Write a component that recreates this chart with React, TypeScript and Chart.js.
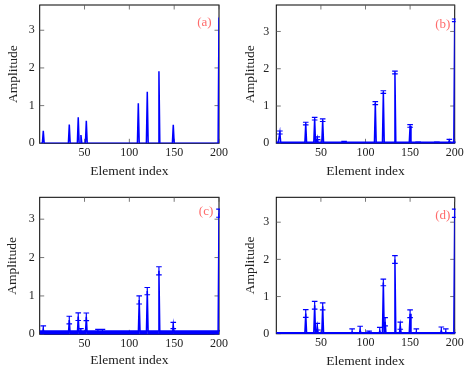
import React, { useEffect, useRef } from "react";
import { Chart, registerables } from "chart.js";
Chart.register(...registerables);

// ---------- data ----------
const nElements = 200;
const xTicks = [50, 100, 150, 200];
const yTicks = [0, 1, 2, 3];
const xLabel = "Element index";
const yLabel = "Amplitude";
const panelTags = ["(a)", "(b)", "(c)", "(d)"];
const yMaxes = [3.67, 3.71, 3.57, 3.67];

// (a) true sparse signal (no error bars)
const aIdx = [4, 33, 43, 46, 52, 110, 120, 133, 149, 200];
const aVal = [0.33, 0.5, 0.69, 0.22, 0.6, 1.06, 1.37, 1.91, 0.49, 3.34];

// (b)
const bIdx = [4, 33, 43, 46, 52, 76, 111, 120, 133, 150, 159, 180, 194, 200];
const bVal = [0.29, 0.53, 0.66, 0.135, 0.62, 0.02, 1.08, 1.375, 1.9, 0.465, 0.01, 0.01, 0.07, 3.3];
const bErr = [0.04, 0.035, 0.035, 0.035, 0.035, 0.03, 0.04, 0.035, 0.035, 0.035, 0.03, 0.03, 0.035, 0.035];
const bBaseErr = 0.03;

// (c)
const cIdx = [4, 33, 43, 46, 52, 65, 70, 111, 120, 133, 149, 200];
const cVal = [0.13, 0.37, 0.46, 0.06, 0.455, 0.04, 0.04, 0.895, 1.125, 1.655, 0.23, 3.155];
const cErr = [0.09, 0.1, 0.1, 0.09, 0.1, 0.09, 0.09, 0.105, 0.095, 0.105, 0.08, 0.105];
const cBaseErr = 0.09;

// (d)
const dIdx = [33, 43, 46, 52, 85, 94, 104, 116, 120, 122, 133, 139, 150, 157, 185, 190, 200];
const dVal = [0.545, 0.765, 0.19, 0.735, 0.04, 0.1, 0.04, 0.07, 1.38, 0.32, 1.995, 0.215, 0.535, 0.04, 0.08, 0.04, 3.24];
const dErr = [0.105, 0.105, 0.09, 0.095, 0.09, 0.1, 0.03, 0.1, 0.09, 0.11, 0.105, 0.095, 0.105, 0.09, 0.1, 0.09, 0.11];
const dBaseErr = 0.03;

// ---------- styles / layout ----------
const BLUE = "#0000ff";
const TAG_COLOR = "#ff6b6b";
const FONT = "'Liberation Serif', 'Times New Roman', serif";

type Geo = {
  x: number; y: number; w: number; h: number;
  l: number; r: number; t: number; b: number;
  yTitleX: number; xTitleY: number; yTickPad: number; xTickPad: number;
  tagRight: number; tagY: number;
};

const geos: Geo[] = [
  { x: 0, y: 0, w: 232, h: 185, l: 39.7, r: 219, t: 5, b: 143.3, yTitleX: 13.3, xTitleY: 171, yTickPad: 5, xTickPad: 2, tagRight: 7.3, tagY: 22.5 },
  { x: 232, y: 0, w: 232, h: 185, l: 44.3, r: 222.7, t: 5, b: 143.3, yTitleX: 18.3, xTitleY: 171, yTickPad: 7, xTickPad: 2.5, tagRight: 4.4, tagY: 25 },
  { x: 0, y: 185, w: 232, h: 186, l: 39.7, r: 219, t: 12.3, b: 149.3, yTitleX: 12.7, xTitleY: 175.3, yTickPad: 5, xTickPad: 2, tagRight: 5.7, tagY: 27 },
  { x: 232, y: 185, w: 232, h: 186, l: 44.3, r: 222.7, t: 12.3, b: 148.7, yTitleX: 18.3, xTitleY: 176.3, yTickPad: 7, xTickPad: 2, tagRight: 4.4, tagY: 30.5 },
];

type Series = { pts: { x: number; y: number }[]; errs: (number | null)[] };

function buildSeries(idx: number[], val: number[], err: number[] | null, baseErr: number | null): Series {
  const pts: { x: number; y: number }[] = [];
  const errs: (number | null)[] = [];
  for (let i = 1; i <= nElements; i++) {
    const k = idx.indexOf(i);
    pts.push({ x: i, y: k >= 0 ? val[k] : 0 });
    if (err) errs.push(k >= 0 ? err[k] : baseErr);
    else errs.push(null);
  }
  return { pts, errs };
}

const seriesList: Series[] = [
  buildSeries(aIdx, aVal, null, null),
  buildSeries(bIdx, bVal, bErr, bBaseErr),
  buildSeries(cIdx, cVal, cErr, cBaseErr),
  buildSeries(dIdx, dVal, dErr, dBaseErr),
];

function Panel({ i }: { i: number }) {
  const ref = useRef<HTMLCanvasElement | null>(null);
  const g = geos[i];
  useEffect(() => {
    if (!ref.current) return;
    const s = seriesList[i];
    const tickFont = { family: FONT, size: 12 };
    const titleFont = { family: FONT, size: 13.5 };
    const titleLH = 13.5 * 1.2;

    const framePlugin = {
      id: "frame" + i,
      beforeDatasetsDraw(chart: any) {
        const { ctx, chartArea: a, scales } = chart;
        ctx.save();
        ctx.strokeStyle = "#000";
        ctx.lineWidth = 1;
        ctx.strokeRect(a.left, a.top, a.right - a.left, a.bottom - a.top);
        ctx.strokeStyle = "#555";
        ctx.lineWidth = 0.8;
        const tl = 4.5;
        ctx.beginPath();
        for (const v of xTicks) {
          const px = scales.x.getPixelForValue(v);
          ctx.moveTo(px, a.bottom); ctx.lineTo(px, a.bottom - tl);
          ctx.moveTo(px, a.top); ctx.lineTo(px, a.top + tl);
        }
        for (const v of yTicks) {
          const py = scales.y.getPixelForValue(v);
          ctx.moveTo(a.left, py); ctx.lineTo(a.left + tl, py);
          ctx.moveTo(a.right, py); ctx.lineTo(a.right - tl, py);
        }
        ctx.stroke();
        ctx.restore();
      },
      afterDatasetsDraw(chart: any) {
        const { ctx, chartArea: a, scales } = chart;
        ctx.save();
        ctx.beginPath();
        ctx.rect(a.left, a.top - 2, a.right - a.left + 1, a.bottom - a.top + 2);
        ctx.clip();
        ctx.strokeStyle = BLUE;
        ctx.lineWidth = 1.2;
        const cap = 2.8;
        ctx.beginPath();
        s.pts.forEach((p, k) => {
          const e = s.errs[k];
          if (e == null) return;
          const px = scales.x.getPixelForValue(p.x);
          const lo = scales.y.getPixelForValue(p.y - e);
          const hi = scales.y.getPixelForValue(p.y + e);
          ctx.moveTo(px, lo); ctx.lineTo(px, hi);
          ctx.moveTo(px - cap, lo); ctx.lineTo(px + cap, lo);
          ctx.moveTo(px - cap, hi); ctx.lineTo(px + cap, hi);
        });
        ctx.stroke();
        ctx.restore();
      },
      afterDraw(chart: any) {
        const { ctx, chartArea: a } = chart;
        ctx.save();
        ctx.fillStyle = TAG_COLOR;
        ctx.font = `13px ${FONT}`;
        ctx.textAlign = "right";
        ctx.textBaseline = "middle";
        ctx.fillText(panelTags[i], a.right - g.tagRight, g.tagY);
        ctx.restore();
      },
    };

    const chart = new Chart(ref.current, {
      type: "line",
      data: {
        datasets: [
          {
            data: s.pts,
            borderColor: BLUE,
            borderWidth: 1.5,
            pointRadius: 0,
            tension: 0,
            fill: false,
          },
        ],
      },
      options: {
        responsive: false,
        animation: false,
        devicePixelRatio: 1,
        events: [],
        layout: {
          autoPadding: false,
          padding: { left: 0, top: g.t, right: g.w - g.r, bottom: 0 },
        },
        plugins: { legend: { display: false }, tooltip: { enabled: false } },
        scales: {
          x: {
            type: "linear",
            min: 0,
            max: nElements,
            afterBuildTicks: (sc: any) => { sc.ticks = xTicks.map((v) => ({ value: v })); },
            afterFit: (sc: any) => {
              sc.height = g.h - g.b;
              sc.paddingLeft = 0; sc.paddingRight = 0; sc.paddingTop = 0; sc.paddingBottom = 0;
            },
            grid: { display: false, drawTicks: false },
            border: { display: false },
            ticks: { font: tickFont, color: "#222", padding: g.xTickPad, maxRotation: 0, autoSkip: false },
            title: {
              display: true, text: xLabel, font: titleFont, color: "#222",
              padding: { top: 0, bottom: g.h - g.xTitleY - titleLH / 2 },
            },
          },
          y: {
            type: "linear",
            min: 0,
            max: yMaxes[i],
            afterBuildTicks: (sc: any) => { sc.ticks = yTicks.map((v) => ({ value: v })); },
            afterFit: (sc: any) => {
              sc.width = g.l;
              sc.paddingLeft = 0; sc.paddingRight = 0; sc.paddingTop = 0; sc.paddingBottom = 0;
            },
            grid: { display: false, drawTicks: false },
            border: { display: false },
            ticks: { font: tickFont, color: "#222", padding: g.yTickPad, autoSkip: false },
            title: {
              display: true, text: yLabel, font: titleFont, color: "#222",
              padding: { top: g.yTitleX - titleLH / 2, bottom: 0 },
            },
          },
        },
      } as any,
      plugins: [framePlugin],
    });
    return () => chart.destroy();
  }, [i]);
  return (
    <canvas
      ref={ref}
      width={g.w}
      height={g.h}
      style={{ position: "absolute", left: g.x, top: g.y, width: g.w, height: g.h, display: "block" }}
    />
  );
}

export default function App() {
  return (
    <div style={{ position: "absolute", left: 0, top: 0, width: 464, height: 371, background: "#fff", overflow: "hidden" }}>
      {[0, 1, 2, 3].map((i) => (
        <Panel key={i} i={i} />
      ))}
    </div>
  );
}
